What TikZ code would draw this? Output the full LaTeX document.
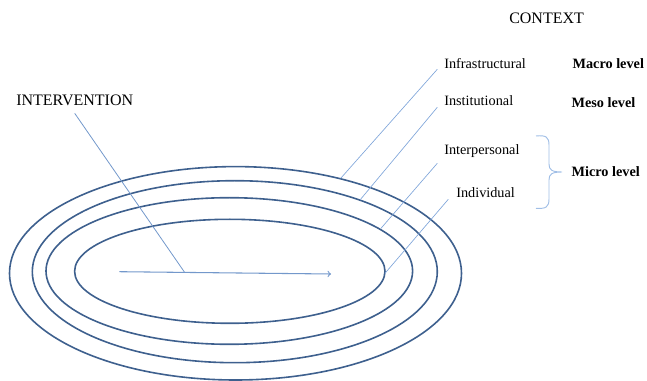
\documentclass[tikz,border=0pt]{standalone}
\usepackage{fontspec}
\setmainfont{Liberation Serif}
\usetikzlibrary{positioning}

\definecolor{ringblue}{RGB}{62,96,142}
\definecolor{leadblue}{RGB}{128,166,218}
\definecolor{braceblue}{RGB}{160,190,230}

\tikzset{
  ring/.style={draw=ringblue, line width=1.2pt},
  leader/.style={draw=leadblue, line width=0.5pt},
  layer/.style={inner sep=0pt, anchor=west, font=\fontsize{10.7}{12}\selectfont},
  levelname/.style={inner sep=0pt, anchor=west, font=\fontsize{10.7}{12}\selectfont\bfseries},
  heading/.style={inner sep=0pt, anchor=west, font=\fontsize{12}{14}\selectfont}
}

\begin{document}
\begin{tikzpicture}[x=0.75pt,y=0.75pt,yscale=-1,xscale=1]
\useasboundingbox (0,0) rectangle (647,381);

%Shape: Ellipses (outer to inner)
\draw [ring] (235.5,273.3) ellipse [x radius=226, y radius=106.7];
\draw [ring] (234.8,271.7) ellipse [x radius=202.5, y radius=91];
\draw [ring] (229.3,271) ellipse [x radius=183.3, y radius=73.3];
\draw [ring] (229.8,271.3) ellipse [x radius=155.2, y radius=52];

% Points on the rings
\coordinate (onInfra) at (340.7,178.3);
\coordinate (onInsti) at (360,200);
\coordinate (onInter) at (381,228.3);
\coordinate (onIndiv) at (385,273.3);

% Text Nodes
\node [heading] (context) at (509,18.3) {CONTEXT};
\node [heading] (intervention) at (16,100) {INTERVENTION};
\node [layer] (infra) at (444,63.3) {Infrastructural};
\node [layer] (insti) at (444,100.7) {Institutional};
\node [layer] (inter) at (444,151) {Interpersonal};
\node [layer] (indiv) at (456,192.7) {Individual};
\node [levelname] (macro) at (572.3,63.3) {Macro level};
\node [levelname] (meso) at (571.3,102.7) {Meso level};
\node [levelname] (micro) at (571.3,171.7) {Micro level};

% Leader lines
\coordinate (fromInfra) at (437.3,69.3);
\coordinate (fromInsti) at (437.3,107.3);
\coordinate (fromInter) at (437.3,163.3);
\coordinate (fromIndiv) at (448.3,199.3);
\draw [leader] (fromInfra) -- (onInfra);
\draw [leader] (fromInsti) -- (onInsti);
\draw [leader] (fromInter) -- (onInter);
\draw [leader] (fromIndiv) -- (onIndiv);

% Intervention arrow
\coordinate (arrowStart) at (119.3,271.7);
\coordinate (arrowEnd) at (331,274);
\coordinate (hit) at (184.3,271.9);
\coordinate (fromIntervention) at (74.7,113.3);
\draw [leader, draw=leadblue!80!ringblue, line width=0.6pt] (fromIntervention) -- (hit);
\draw [leader, draw=leadblue!80!ringblue, line width=0.8pt, ->] (arrowStart) -- (arrowEnd);

% Brace for micro level
\draw [draw=braceblue, line width=0.7pt] (536,136) .. controls (546,135) and (549,137) .. (549,145) -- (549,164) .. controls (549,170) and (552,172) .. (562,172) .. controls (552,172) and (549,174) .. (549,180) -- (549,199) .. controls (549,207) and (546,209) .. (536,208.3);

\end{tikzpicture}
\end{document}
